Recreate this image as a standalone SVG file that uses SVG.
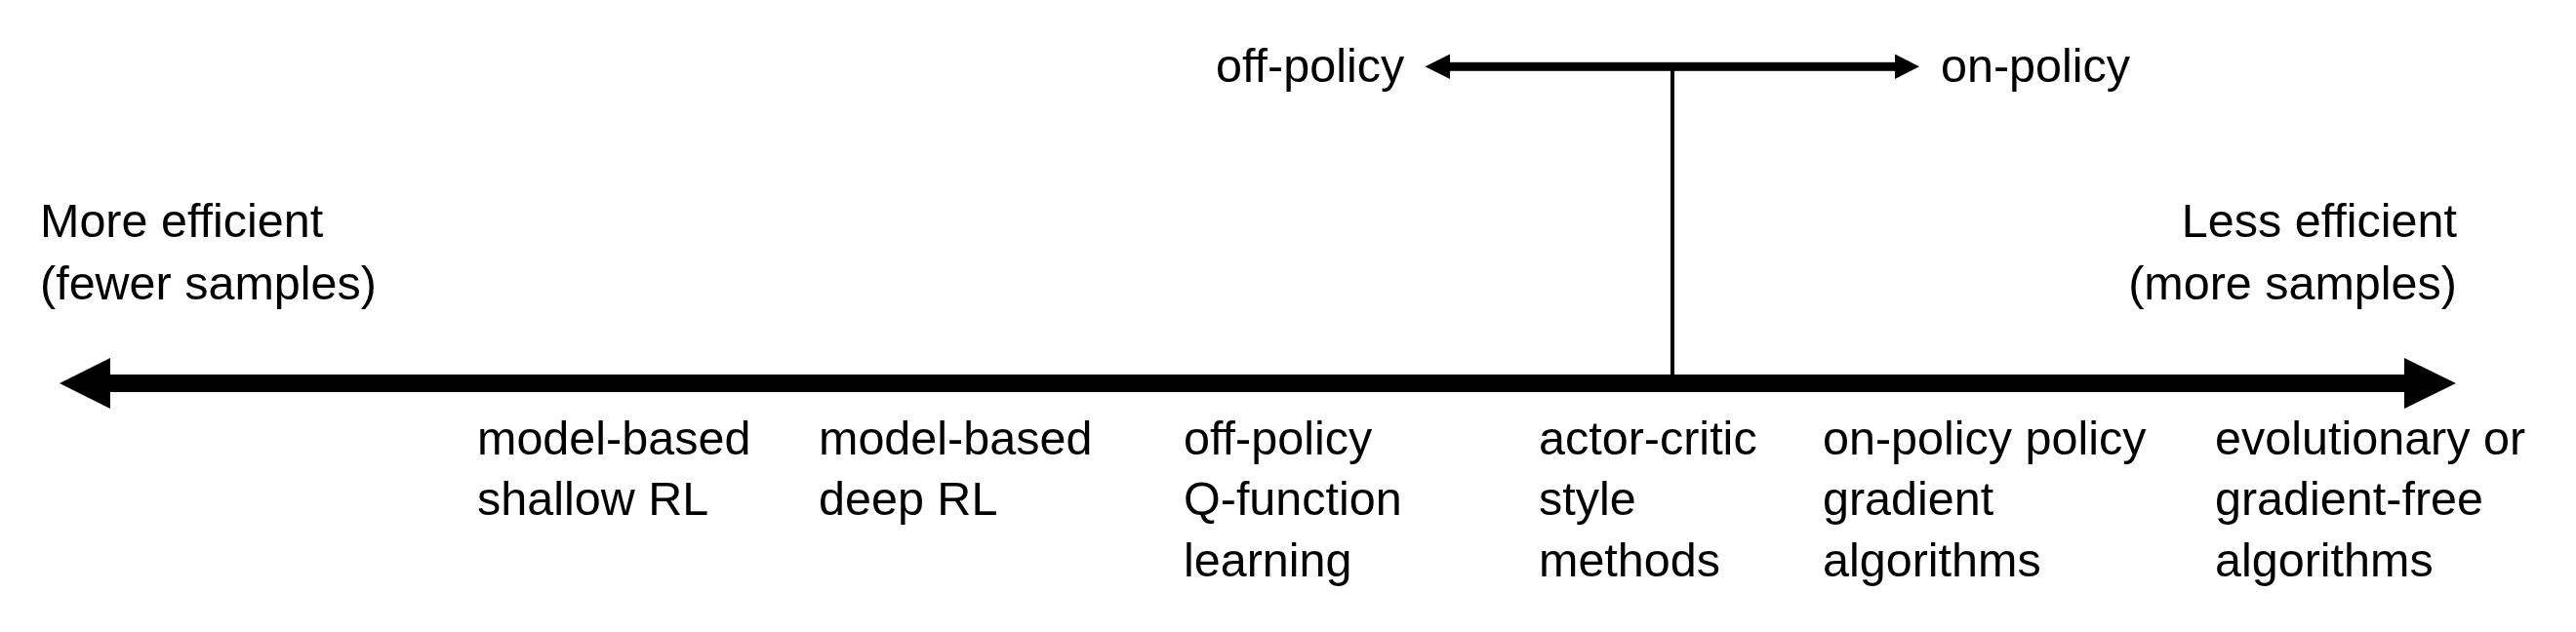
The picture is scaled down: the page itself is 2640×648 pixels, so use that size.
<svg xmlns="http://www.w3.org/2000/svg" width="2640" height="648" viewBox="0 0 2640 648">
<style>
text { font-family: "Liberation Sans", Arial, sans-serif; font-size: 48.5px; fill: #000; }
.end { text-anchor: end; }
</style>
<rect width="2640" height="648" fill="#fff"/>
<g id="connectors">
  <g id="main-axis">
    <rect x="112" y="384" width="2353" height="18" fill="#000"/>
    <polygon points="61,393 113,367 113,419" fill="#000"/>
    <polygon points="2517,393 2464,367 2464,419" fill="#000"/>
  </g>
  <g id="policy-axis">
    <rect x="1485" y="63.8" width="458" height="9" fill="#000"/>
    <polygon points="1460.5,68.3 1486,55.5 1486,81" fill="#000"/>
    <polygon points="1967,68.3 1942,55.5 1942,81" fill="#000"/>
  </g>
  <line id="stem" x1="1714" y1="68" x2="1714" y2="386" stroke="#000" stroke-width="4"/>
</g>
<g id="more-efficient">
  <text x="41" y="243">More efficient</text>
  <text x="41" y="307">(fewer samples)</text>
</g>
<g id="less-efficient">
  <text class="end" x="2518" y="243">Less efficient</text>
  <text class="end" x="2518" y="307">(more samples)</text>
</g>
<g id="off-policy"><text x="1246" y="84">off-policy</text></g>
<g id="on-policy"><text x="1989" y="84">on-policy</text></g>
<g id="model-based-shallow">
  <text x="489" y="465.5">model-based</text>
  <text x="489" y="528">shallow RL</text>
</g>
<g id="model-based-deep">
  <text x="839" y="465.5">model-based</text>
  <text x="839" y="528">deep RL</text>
</g>
<g id="off-policy-q">
  <text x="1213" y="465.5">off-policy</text>
  <text x="1213" y="528">Q-function</text>
  <text x="1213" y="591">learning</text>
</g>
<g id="actor-critic">
  <text x="1577" y="465.5">actor-critic</text>
  <text x="1577" y="528">style</text>
  <text x="1577" y="591">methods</text>
</g>
<g id="on-policy-pg">
  <text x="1868" y="465.5">on-policy policy</text>
  <text x="1868" y="528">gradient</text>
  <text x="1868" y="591">algorithms</text>
</g>
<g id="evolutionary">
  <text x="2270" y="465.5">evolutionary or</text>
  <text x="2270" y="528">gradient-free</text>
  <text x="2270" y="591">algorithms</text>
</g>
</svg>
